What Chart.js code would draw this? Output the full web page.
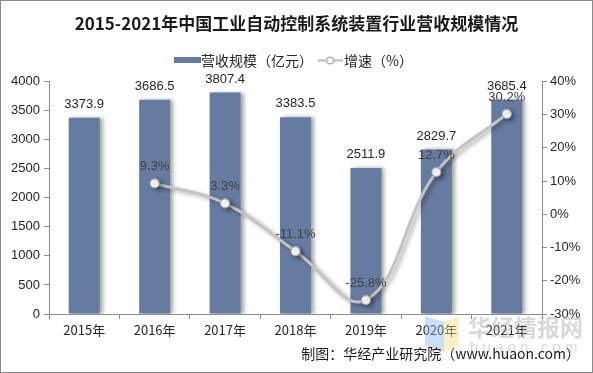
<!DOCTYPE html>
<html>
<head>
<meta charset="utf-8">
<script src="https://cdn.jsdelivr.net/npm/chart.js@4"></script>
<style>
  html, body { margin: 0; padding: 0; background: #fff; }
  #wrap { position: relative; width: 593px; height: 373px; }
  canvas { display: block; }
</style>
</head>
<body>
<div id="wrap"><canvas id="myChart" width="593" height="373"></canvas></div>
<script>
const years = ['2015年', '2016年', '2017年', '2018年', '2019年', '2020年', '2021年']
const revenue = [3373.9, 3686.5, 3807.4, 3383.5, 2511.9, 2829.7, 3685.4]
const growth = [null, 9.3, 3.3, -11.1, -25.8, 12.7, 30.2]
const revenueTicks = [0, 500, 1000, 1500, 2000, 2500, 3000, 3500, 4000]
const growthTicks = [-30, -20, -10, 0, 10, 20, 30, 40]

const barColor = '#667ba0'
const lineColor = '#c4c4c4'
const labelFont = '13px "Liberation Sans", Arial, sans-serif'
const cjkFont = '"Noto Sans CJK SC", "Liberation Sans", sans-serif'

// little legend swatches
function barSwatch() {
    const c = document.createElement('canvas')
    c.width = 27; c.height = 6
    const x = c.getContext('2d')
    x.fillStyle = barColor
    x.fillRect(0, 0, 27, 6)
    return c
}
function lineSwatch() {
    const c = document.createElement('canvas')
    c.width = 25; c.height = 9
    const x = c.getContext('2d')
    x.strokeStyle = lineColor
    x.lineWidth = 2.5
    x.beginPath(); x.moveTo(0, 4.5); x.lineTo(25, 4.5); x.stroke()
    x.fillStyle = '#fff'
    x.lineWidth = 1.2
    x.strokeStyle = '#a8a8a8'
    x.beginPath(); x.arc(12.5, 4.5, 3.3, 0, Math.PI * 2); x.fill(); x.stroke()
    return c
}

// extra gap between legend and plot area
const spacer = {
    id: 'spacer',
    beforeInit(chart) {
        Chart.layouts.addBox(chart, {
            position: 'top', weight: 10, fullSize: true, options: {},
            top: 0, left: 0, right: 0, bottom: 0, width: 0, height: 0,
            isHorizontal() { return true },
            update(w) { this.width = w; this.height = 4 },
            draw() {}
        })
    }
}

const shadowPlugin = {
    id: 'shadows',
    beforeDatasetDraw(chart, args) {
        const ctx = chart.ctx
        ctx.save()
        ctx.shadowColor = 'rgba(0,0,0,0.35)'
        ctx.shadowBlur = 4
        ctx.shadowOffsetX = 3
        ctx.shadowOffsetY = args.index === 1 ? 2 : 0
    },
    afterDatasetDraw(chart) {
        chart.ctx.restore()
    }
}

const valueLabels = {
    id: 'valueLabels',
    afterDatasetsDraw(chart) {
        const ctx = chart.ctx
        ctx.save()
        ctx.font = labelFont
        ctx.textAlign = 'center'
        ctx.textBaseline = 'bottom'
        chart.getDatasetMeta(0).data.forEach((bar, i) => {
            ctx.fillStyle = '#262626'
            ctx.fillText(revenue[i].toFixed(1), bar.x, bar.y - 7)
        })
        chart.getDatasetMeta(1).data.forEach((pt, i) => {
            if (growth[i] === null) return
            ctx.fillStyle = '#404040'
            ctx.fillText(growth[i].toFixed(1) + '%', pt.x, pt.y - 10)
        })
        ctx.restore()
    }
}

const footer = {
    id: 'footer',
    afterDraw(chart) {
        const ctx = chart.ctx
        ctx.save()
        // watermark
        ctx.globalAlpha = 0.45
        ctx.fillStyle = '#8fb8f0'
        ctx.beginPath(); ctx.moveTo(425, 316); ctx.lineTo(444, 322); ctx.lineTo(444, 352); ctx.lineTo(425, 346); ctx.fill()
        ctx.fillStyle = '#f5e08a'
        ctx.beginPath(); ctx.moveTo(444, 322); ctx.lineTo(459, 316); ctx.lineTo(459, 346); ctx.lineTo(444, 352); ctx.fill()
        ctx.globalAlpha = 1
        ctx.fillStyle = 'rgba(170,170,170,0.45)'
        ctx.font = 'bold 23px ' + cjkFont
        ctx.textAlign = 'left'
        ctx.textBaseline = 'middle'
        ctx.fillText('华经情报网', 468, 327)
        ctx.font = '15px "Liberation Sans", Arial, sans-serif'
        ctx.fillText('h u a o n . c o m', 470, 348)
        // source
        ctx.fillStyle = '#1a1a1a'
        ctx.font = '14px ' + cjkFont
        ctx.textAlign = 'right'
        ctx.fillText('制图：华经产业研究院（www.huaon.com）', 580, 354)
        // frame
        ctx.strokeStyle = '#8c8c8c'
        ctx.lineWidth = 1
        ctx.strokeRect(0.5, 0.5, 592, 372)
        ctx.restore()
    }
}

const ctx = document.getElementById('myChart')
new Chart(ctx, {
    data: {
        labels: years,
        datasets: [
            {
                type: 'bar',
                label: '营收规模（亿元）',
                data: revenue,
                backgroundColor: barColor,
                yAxisID: 'y',
                categoryPercentage: 1,
                barPercentage: 0.44,
                order: 2
            },
            {
                type: 'line',
                label: '增速（%）',
                data: growth,
                borderColor: lineColor,
                borderWidth: 3,
                tension: 0.4,
                pointRadius: 4.5,
                pointBackgroundColor: '#fff',
                pointBorderColor: '#a8a8a8',
                pointBorderWidth: 1.2,
                yAxisID: 'y1',
                order: 1
            }
        ]
    },
    options: {
        responsive: false,
        animation: false,
        layout: { padding: { left: 0, right: 0, top: 0, bottom: 0 } },
        plugins: {
            title: {
                display: true,
                text: '2015-2021年中国工业自动控制系统装置行业营收规模情况',
                color: '#1a1a1a',
                font: { family: cjkFont, size: 17, weight: 'bold' },
                padding: { top: 13, bottom: 10 }
            },
            legend: {
                display: true,
                labels: {
                    usePointStyle: true,
                    color: '#262626',
                    font: { family: cjkFont, size: 14 },
                    padding: 10,
                    generateLabels() {
                        return [
                            { text: '营收规模（亿元）', pointStyle: barSwatch(), datasetIndex: 0, fontColor: '#262626' },
                            { text: '增速（%）', pointStyle: lineSwatch(), datasetIndex: 1, fontColor: '#262626' }
                        ]
                    }
                }
            },
            tooltip: { enabled: false }
        },
        scales: {
            x: {
                grid: { display: true, drawOnChartArea: false, offset: true, color: '#8c8c8c', tickLength: 5 },
                border: { color: '#8c8c8c' },
                ticks: { color: '#262626', font: { family: cjkFont, size: 13 }, padding: 3 },
                afterFit(s) { s.height = 59 }
            },
            y: {
                position: 'left',
                min: 0, max: 4000,
                afterBuildTicks(s) { s.ticks = revenueTicks.map(v => ({ value: v })) },
                grid: { display: true, drawOnChartArea: false, color: '#8c8c8c', tickLength: 5 },
                border: { color: '#8c8c8c' },
                ticks: { color: '#262626', font: { family: '"Liberation Sans", Arial, sans-serif', size: 13 }, padding: 4, callback: v => String(v) },
                afterFit(s) { s.width = 49 }
            },
            y1: {
                position: 'right',
                min: -30, max: 40,
                afterBuildTicks(s) { s.ticks = growthTicks.map(v => ({ value: v })) },
                grid: { display: true, drawOnChartArea: false, color: '#8c8c8c', tickLength: 5 },
                border: { color: '#8c8c8c' },
                ticks: { color: '#262626', font: { family: '"Liberation Sans", Arial, sans-serif', size: 13 }, padding: 3, callback: v => v + '%' },
                afterFit(s) { s.width = 51 }
            }
        }
    },
    plugins: [spacer, shadowPlugin, valueLabels, footer]
})
</script>
</body>
</html>
